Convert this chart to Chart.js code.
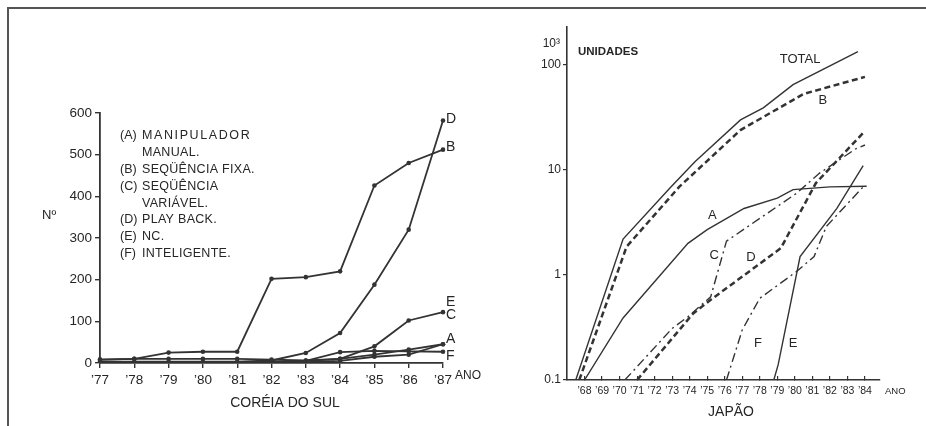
<!DOCTYPE html>
<html>
<head>
<meta charset="utf-8">
<script src="https://cdn.jsdelivr.net/npm/chart.js@4"></script>
<style>
  html, body { margin: 0; padding: 0; background: #fff; }
  #moldura { position: absolute; left: 7px; top: 7px; width: 919px; height: 419px;
             border-top: 2px solid #555; border-left: 2px solid #555; }
  #caixaCoreia { position: absolute; left: 0; top: 0; width: 520px; height: 426px; }
  #caixaJapao { position: absolute; left: 520px; top: 0; width: 406px; height: 426px; }
</style>
</head>
<body>
<div id="moldura"></div>
<div id="caixaCoreia"><canvas id="coreia" width="520" height="426"></canvas></div>
<div id="caixaJapao"><canvas id="japao" width="406" height="426"></canvas></div>
<script>
// ---- Coréia do Sul (escala linear) ----
const anosCoreia = ['’77', '’78', '’79', '’80', '’81', '’82', '’83', '’84', '’85', '’86', '’87'];
const coreiaA = [8, 10, 10, 10, 10, 8, 6, 10, 20, 32, 45];
const coreiaB = [8, 10, 25, 27, 27, 202, 206, 220, 426, 480, 512];
const coreiaC = [null, null, null, null, 0, 3, 5, 10, 40, 102, 122];
const coreiaD = [3, 3, 3, 3, 3, 6, 24, 72, 188, 320, 582];
const coreiaE = [null, null, null, null, 0, 1, 2, 5, 15, 20, 45];
const coreiaF = [null, null, null, null, 0, 2, 5, 26, 29, 28, 27];
const coreiaRotulos = ['D', 'B', 'E', 'C', 'A', 'F'];
const coreiaRotuloValor = [586, 519, 147, 114, 58, 17];
const legendaLetras = ['(A)', '', '(B)', '(C)', '', '(D)', '(E)', '(F)'];
const legendaTextos = ['MANIPULADOR', 'MANUAL.', 'SEQÜÊNCIA FIXA.', 'SEQÜÊNCIA', 'VARIÁVEL.',
                       'PLAY BACK.', 'NC.', 'INTELIGENTE.'];

// ---- Japão (escala logarítmica, mil unidades) ----
const anosJapao = [68, 69, 70, 71, 72, 73, 74, 75, 76, 77, 78, 79, 80, 81, 82, 83, 84];
const marcasJapao = [0.1, 1, 10, 100];
const totalAno = [67.5, 70.2, 72.9, 74.3, 76.9, 78.2, 79.9, 83.6];
const totalVal = [0.1, 2.2, 6.8, 12, 30, 39, 65, 134];
const bAno = [67.7, 70.4, 73.4, 76.9, 80.5, 84.0];
const bVal = [0.1, 1.86, 6.9, 24, 53, 77];
const aAno = [68.0, 70.2, 73.9, 75.0, 77.1, 79.0, 79.9, 82.0, 84.1];
const aVal = [0.1, 0.39, 2.0, 2.7, 4.3, 5.4, 6.5, 6.9, 7.0];
const cAno = [70.3, 73.0, 73.9, 75.2, 76.1, 80.1, 81.4, 83.5, 84.0];
const cVal = [0.1, 0.31, 0.40, 0.62, 2.1, 6.0, 9.3, 16, 17.3];
const dAno = [71.0, 74.2, 75.2, 79.2, 81.2, 84.0];
const dVal = [0.1, 0.43, 0.58, 1.8, 7.5, 23.5];
const eAno = [78.8, 79.05, 80.3, 82.4, 83.9];
const eVal = [0.1, 0.14, 1.5, 4.3, 11];
const fAno = [76.1, 77.0, 78.0, 80.1, 81.1, 81.8, 84.0];
const fVal = [0.1, 0.30, 0.60, 1.08, 1.5, 2.9, 7.2];
const japaoRotulos = ['TOTAL', 'B', 'A', 'C', 'D', 'F', 'E'];
const japaoRotuloAno = [80.3, 81.6, 75.3, 75.4, 77.5, 77.9, 79.9];
const japaoRotuloValor = [112, 46, 3.7, 1.55, 1.48, 0.225, 0.225];

const TINTA = '#333';
const TEXTO = '#262626';
const FONTE = "'Liberation Sans', Arial, sans-serif";
Chart.defaults.font.family = FONTE;
Chart.defaults.color = TEXTO;

function serieCoreia(dados) {
  return {
    data: dados, borderColor: TINTA, borderWidth: 1.8, pointRadius: 2.3,
    pointBackgroundColor: TINTA, pointBorderWidth: 0, tension: 0, spanGaps: false
  };
}

function pontos(anos, vals) {
  return anos.map((a, i) => ({ x: a, y: vals[i] }));
}

function serieJapao(anos, vals, tipo) {
  const s = { data: pontos(anos, vals), borderColor: TINTA, pointRadius: 0, tension: 0, borderWidth: 1.4 };
  if (tipo === 'tracejado') { s.borderDash = [6, 3.5]; s.borderWidth = 2.5; }
  if (tipo === 'traco-ponto') { s.borderDash = [9, 4, 2, 4]; s.borderWidth = 1.4; }
  return s;
}

const textosCoreia = {
  id: 'textosCoreia',
  afterDraw(chart) {
    const ctx = chart.ctx, area = chart.chartArea;
    const x = chart.scales.x, y = chart.scales.y;
    ctx.save();
    ctx.fillStyle = TEXTO;
    ctx.textBaseline = 'middle';
    // legenda em texto
    ctx.font = '12.5px ' + FONTE;
    legendaLetras.forEach((l, i) => {
      const ly = area.top + 23 + i * 16.8;
      ctx.letterSpacing = '0px';
      ctx.fillText(l, area.left + 20, ly);
      ctx.letterSpacing = i === 0 ? '1.6px' : '0.3px';
      ctx.fillText(legendaTextos[i], area.left + 42, ly);
    });
    ctx.letterSpacing = '0px';
    // rótulos das séries
    ctx.font = '14px ' + FONTE;
    const xFim = x.getPixelForValue(anosCoreia.length - 1) + 3;
    coreiaRotulos.forEach((r, i) => ctx.fillText(r, xFim, y.getPixelForValue(coreiaRotuloValor[i])));
    // títulos
    ctx.font = '13px ' + FONTE;
    ctx.fillText('Nº', 42, 215);
    ctx.font = '12px ' + FONTE;
    ctx.fillText('ANO', xFim + 9, area.bottom + 13);
    ctx.font = '14px ' + FONTE;
    ctx.textAlign = 'center';
    ctx.fillText('CORÉIA DO SUL', 285, 403);
    ctx.restore();
  }
};

const textosJapao = {
  id: 'textosJapao',
  afterDraw(chart) {
    const ctx = chart.ctx, area = chart.chartArea;
    const x = chart.scales.x, y = chart.scales.y;
    ctx.save();
    ctx.fillStyle = TEXTO;
    ctx.textBaseline = 'middle';
    ctx.font = '13px ' + FONTE;
    ctx.textAlign = 'center';
    japaoRotulos.forEach((r, i) => ctx.fillText(r, x.getPixelForValue(japaoRotuloAno[i]), y.getPixelForValue(japaoRotuloValor[i])));
    ctx.font = '14px ' + FONTE;
    ctx.fillText('JAPÃO', 211, 412);
    ctx.textAlign = 'left';
    ctx.font = 'bold 11.5px ' + FONTE;
    ctx.fillText('UNIDADES', area.left + 11, 52);
    ctx.font = '9.5px ' + FONTE;
    ctx.fillText('ANO', area.right + 5, area.bottom + 11);
    ctx.textAlign = 'right';
    ctx.font = '12px ' + FONTE;
    ctx.fillText('10³', area.left - 7, y.getPixelForValue(100) - 21);
    ctx.restore();
  }
};

new Chart(document.getElementById('coreia'), {
  type: 'line',
  data: {
    labels: anosCoreia,
    datasets: [coreiaA, coreiaB, coreiaC, coreiaD, coreiaE, coreiaF].map(serieCoreia)
  },
  options: {
    responsive: false, animation: false,
    layout: { padding: { top: 113, right: 77, bottom: 0, left: 0 } },
    plugins: { legend: { display: false }, tooltip: { enabled: false } },
    scales: {
      x: {
        type: 'category', offset: false,
        grid: { drawOnChartArea: false, tickLength: 5, color: TINTA, lineWidth: 1.4 },
        border: { color: TINTA, width: 1.8 },
        ticks: { font: { size: 13.5 }, padding: 4, autoSkip: false, maxRotation: 0 },
        afterFit(s) { s.height = 63; }
      },
      y: {
        min: 0, max: 600,
        grid: { drawOnChartArea: false, tickLength: 5, color: TINTA, lineWidth: 1.4 },
        border: { color: TINTA, width: 1.8 },
        ticks: { stepSize: 100, font: { size: 13.5 }, padding: 3 },
        afterFit(s) { s.width = 100; }
      }
    }
  },
  plugins: [textosCoreia]
});

new Chart(document.getElementById('japao'), {
  type: 'line',
  data: {
    datasets: [
      serieJapao(totalAno, totalVal, 'solido'),
      serieJapao(bAno, bVal, 'tracejado'),
      serieJapao(aAno, aVal, 'solido'),
      serieJapao(cAno, cVal, 'traco-ponto'),
      serieJapao(dAno, dVal, 'tracejado'),
      serieJapao(eAno, eVal, 'solido'),
      serieJapao(fAno, fVal, 'traco-ponto')
    ]
  },
  options: {
    responsive: false, animation: false,
    layout: { padding: { top: 27, right: 46, bottom: 0, left: 0 } },
    plugins: { legend: { display: false }, tooltip: { enabled: false } },
    scales: {
      x: {
        type: 'linear', min: 67, max: 84.86,
        afterBuildTicks(s) { s.ticks = anosJapao.map(v => ({ value: v })); },
        grid: { drawOnChartArea: false, tickLength: -4, color: TINTA, lineWidth: 1.2 },
        border: { color: TINTA, width: 1.6 },
        ticks: { font: { size: 10.5 }, padding: 9, autoSkip: false, maxRotation: 0,
                 callback: v => '’' + v },
        afterFit(s) { s.height = 46; }
      },
      y: {
        type: 'logarithmic', min: 0.1, max: 230,
        afterBuildTicks(s) { s.ticks = marcasJapao.map(v => ({ value: v })); },
        grid: { drawOnChartArea: false, tickLength: 4, color: TINTA, lineWidth: 1.2 },
        border: { color: TINTA, width: 1.6 },
        ticks: { font: { size: 12 }, padding: 2, callback: v => String(v) },
        afterFit(s) { s.width = 47; }
      }
    }
  },
  plugins: [textosJapao]
});
</script>
</body>
</html>
